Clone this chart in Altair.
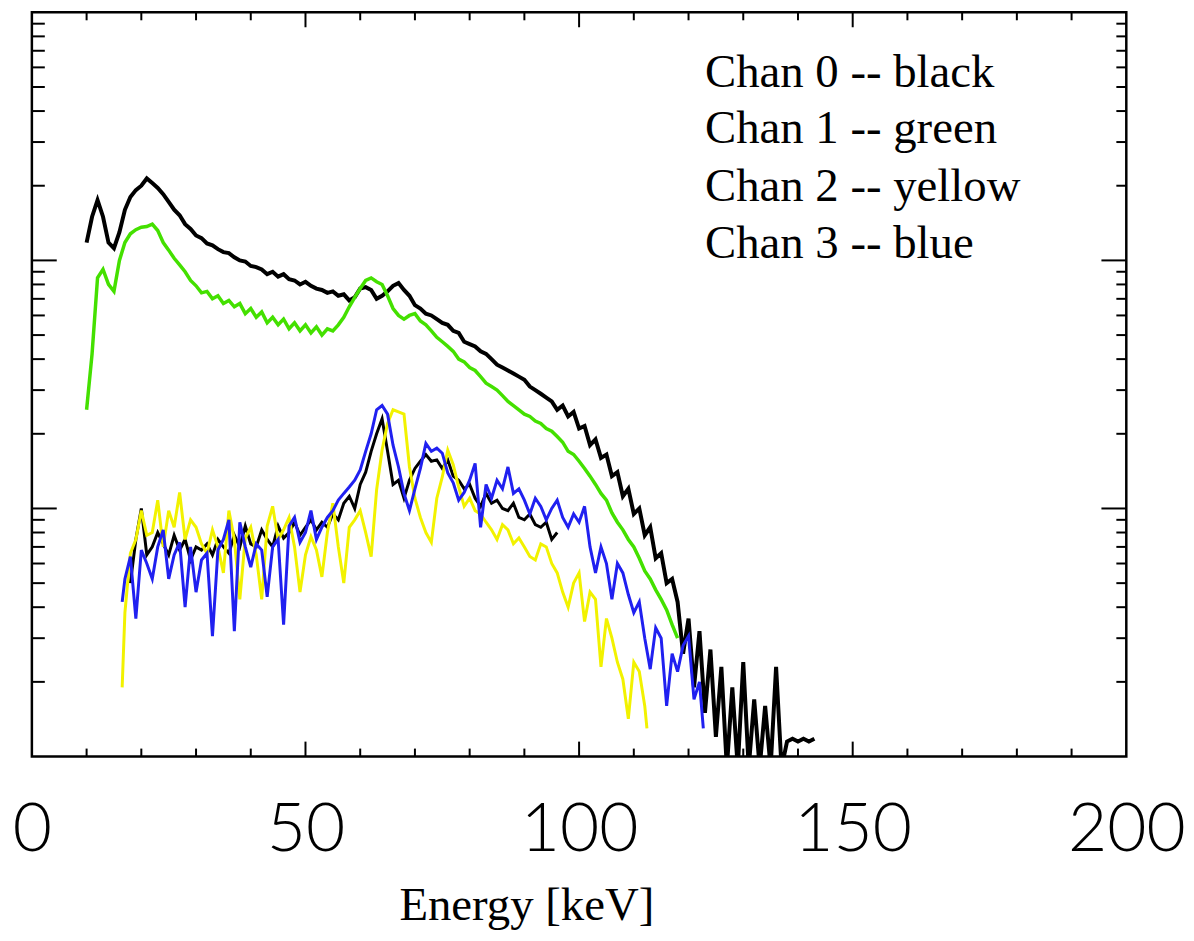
import altair as alt
import pandas as pd

W, H = 1100, 748

# ---------------- data (energy in keV, counts) ----------------
ch0_energy = list(range(10, 138)) + [138, 139, 140, 141, 142, 143]
ch0_counts = [
    118, 150, 175, 150, 118, 112, 130, 160, 180, 192,          # 10-19
    200, 214, 205, 196, 185, 172, 160, 152, 140, 134,          # 20-29
    126, 123, 117, 115, 111, 108, 107, 103, 100, 99,           # 30-39
    95, 94, 92, 88, 90, 86, 88, 84, 83, 80,                    # 40-49
    82, 79, 77, 76, 74, 75, 72, 73, 69, 71,                    # 50-59
    77, 78, 76, 70, 72, 75, 79, 81, 76, 72,                    # 60-69
    66, 64, 61, 60, 58, 56, 55, 52, 51, 47,                    # 70-79
    46, 45, 43, 42, 40, 38, 37, 36, 35, 34,                    # 80-89
    33, 31, 30, 29, 28, 27, 25, 26, 23.5, 24.5,                # 90-99
    21, 21.5, 18, 19, 16, 16.5, 13.5, 14, 11.2, 12,            # 100-109
    9.5, 10, 7.8, 8.4, 6.3, 6.6, 5.0, 5.2,                     # 110-117
    4.2, 2.6, 3.6, 1.9, 3.2, 1.5, 2.7, 1.2, 2.3, 0.9,          # 118-127
    1.9, 0.9, 2.4, 0.9, 1.7, 0.9, 1.6, 0.9, 2.3, 0.9,          # 128-137
    1.15, 1.18, 1.15, 1.18, 1.15, 1.18,                        # 138-143
]

ch0_low_energy = list(range(18, 97))
ch0_low_counts = [
    5.0, 7.5, 10.0, 6.5, 7.0, 8.0, 7.2, 6.5, 7.8, 6.8,
    7.5, 6.2, 7.0, 6.8, 7.2, 6.5, 7.5, 7.0, 6.6, 7.8,
    7.0, 8.5, 7.2, 7.0, 8.2, 7.5, 7.0, 8.5, 7.6, 8.0,
    8.8, 7.8, 8.4, 9.0, 8.2, 8.8, 8.4, 9.5, 9.0, 10.5,
    11.2, 10.0, 12.5, 14, 17, 20, 23, 17, 12.5, 13,
    11, 13, 14.5, 15.5, 16.5, 15.5, 15.7, 14.5, 15.7, 13.5,
    13, 12, 12.5, 11, 10.2, 11.5, 10.5, 10.8, 10, 9.8,
    10.5, 9.2, 9, 9.5, 8.6, 8.4, 8.8, 7.5, 8.0,
]

ch1_energy = list(range(10, 119))
ch1_counts = [
    25, 42, 85, 92, 80, 75, 100, 118, 128, 133,
    136, 137, 140, 132, 118, 110, 102, 96, 90, 83,
    79, 74, 75, 70, 72, 67, 69, 65, 67, 61,
    64, 59, 62, 56, 59, 55, 58, 53, 56, 52,
    55, 51, 54, 50, 53, 52, 55, 59, 65, 71,
    77, 83, 85, 82, 80, 72, 64, 60, 58, 60,
    61, 57, 55, 52, 49, 47, 45, 43, 40, 39,
    37, 36, 34, 32, 31, 30, 28.5, 27, 26, 25,
    24, 23.5, 22.5, 22, 21, 20.5, 19.5, 18.5, 17, 16.5,
    15.5, 14.5, 13.5, 12.5, 11.5, 10.8, 9.6, 8.8, 8.2, 7.5,
    7.0, 6.3, 5.6, 5.2, 4.7, 4.3, 3.9, 3.4, 3.0,
]

ch2_energy = [16.5] + list(range(17, 113)) + [112.4]
ch2_counts = [
    1.9,
    3.8, 6.6, 7.5, 9.8, 7.8, 8.0, 10.8, 7.0, 9.8, 8.4,
    11.6, 7.5, 9.0, 8.4, 7.2, 6.6, 8.2, 7.0, 5.5, 9.8,
    7.5, 4.3, 7.6, 8.4, 6.5, 4.3, 8.5, 10.2, 7.5, 8.2,
    9.2, 7.0, 4.6, 6.5, 7.7, 6.8, 5.3, 8.0, 10.5, 7.0,
    5.0, 8.4, 9.0, 9.8, 8.0, 6.4, 11.9, 17.2, 22, 25,
    24.5, 24, 14.7, 11, 9.2, 8.0, 7.3, 11, 13.4, 17.2,
    15, 12.2, 10.2, 11, 9.8, 9.5, 8.8, 8.2, 7.5, 8.6,
    8.2, 7.2, 7.6, 7.0, 6.4, 6.2, 7.2, 7.0, 6.0, 5.5,
    4.6, 4.0, 5.0, 5.5, 3.5, 4.6, 4.3, 2.3, 3.6, 3.0,
    2.4, 2.05, 1.42, 2.4, 2.2, 1.6,
    1.3,
]

ch3_energy = [16.5] + list(range(17, 123)) + [122.7]
ch3_counts = [
    4.2,
    5.2, 6.4, 3.6, 6.8, 6.0, 5.2, 7.0, 8.2, 5.2, 6.5,
    7.3, 4.0, 7.0, 4.6, 6.2, 6.6, 3.06, 6.8, 7.5, 9.0,
    3.2, 8.8, 7.0, 5.8, 7.2, 6.8, 4.4, 7.0, 7.5, 3.4,
    8.5, 9.2, 7.3, 8.0, 9.8, 7.5, 8.4, 9.2, 9.8, 10.8,
    11.5, 12.2, 13.0, 14.3, 17, 20, 25, 26, 24, 18,
    14.7, 11.5, 9.8, 12, 14.5, 18.3, 17, 17.5, 16.7, 13.9,
    12.7, 10.8, 11.6, 13, 15.2, 8.4, 12.5, 11, 13, 12,
    14.7, 11.5, 12, 10.8, 9.5, 11, 10.2, 9.0, 10, 10.8,
    9.2, 8.4, 9.5, 8.8, 10.2, 7.0, 5.5, 7.0, 6.0, 4.3,
    6.0, 5.5, 4.5, 3.8, 4.2, 3.0, 2.25, 3.3, 3.0, 1.6,
    2.6, 2.2, 2.8, 3.06, 1.7, 2.0,
    1.3,
]

legend_lines = ["Chan 0 -- black", "Chan 1 -- green", "Chan 2 -- yellow", "Chan 3 -- blue"]
legend_energy = [123, 123, 123, 123]
legend_counts = [500, 296, 173, 102]

x_labels = [0, 50, 100, 150, 200]
x_minor = [10, 20, 30, 40, 60, 70, 80, 90, 110, 120, 130, 140, 160, 170, 180, 190]
x_major = [50, 100, 150]
y_minor = [m * d for d in (1, 10, 100) for m in range(2, 10)]
y_major = [10, 100]

# ---------------- scales / axes ----------------
x_scale = alt.Scale(domain=[0, 200], nice=False, zero=False)
y_scale = alt.Scale(type="log", domain=[1, 1000], nice=False)

x_axis = alt.Axis(
    values=x_labels, ticks=False, domain=False, grid=False,
    labelFont="Lato", labelFontWeight=300, labelFontSize=68, labelColor="#000",
    labelPadding=40, labelBaseline="top", labelFlush=False, labelOverlap=False,
    title="Energy [keV]", titleFont="Liberation Serif", titleFontSize=47,
    titleFontWeight="normal", titleColor="#000", titleX=497, titleY=164,
    titleBaseline="alphabetic", titleAlign="center",
)


def X(field):
    return alt.X(field, type="quantitative", scale=x_scale, axis=x_axis)


def Y(field):
    return alt.Y(field, type="quantitative", scale=y_scale, axis=None)


def line(e, v, color, width):
    df = pd.DataFrame({"energy": e, "counts": v})
    return alt.Chart(df).mark_line(color=color, strokeWidth=width, clip=True).encode(
        x=X("energy"), y=Y("counts")
    )


layers = [
    line(ch0_low_energy, ch0_low_counts, "#000000", 3),
    line(ch0_energy, ch0_counts, "#000000", 4),
    line(ch1_energy, ch1_counts, "#44e000", 3.5),
    line(ch2_energy, ch2_counts, "#f2f200", 3),
    line(ch3_energy, ch3_counts, "#2020f0", 3),
]


def xticks(vals, length, top):
    df = pd.DataFrame({"t": vals})
    y0, y1 = (0, length) if top else (H, H - length)
    return alt.Chart(df).mark_rule(color="black", strokeWidth=2).encode(
        x=X("t"), y=alt.value(y0), y2=alt.value(y1)
    )


def yticks(vals, length, right):
    df = pd.DataFrame({"t": vals})
    x0, x1 = (W - length, W) if right else (0, length)
    return alt.Chart(df).mark_rule(color="black", strokeWidth=2).encode(
        y=Y("t"), x=alt.value(x0), x2=alt.value(x1)
    )


ticks = [
    xticks(x_minor, 8, False), xticks(x_major, 15, False),
    xticks(x_minor, 8, True), xticks(x_major, 15, True),
    yticks(y_minor, 13, False), yticks(y_major, 25, False),
    yticks(y_minor, 10, True), yticks(y_major, 25, True),
]

legend_df = pd.DataFrame({"energy": legend_energy, "counts": legend_counts, "label": legend_lines})
legend = alt.Chart(legend_df).mark_text(
    align="left", baseline="alphabetic", font="Liberation Serif", fontSize=47, color="#000"
).encode(x=X("energy"), y=Y("counts"), text="label:N")

chart = alt.layer(*layers, *ticks, legend).properties(
    width=W, height=H,
    padding={"left": 24, "top": 2, "right": 60, "bottom": 175},
    autosize=alt.AutoSizeParams(type="none"),
    background="white",
).configure_view(stroke="black", strokeWidth=2.5)

chart.save("out.html", embed_options={"renderer": "svg", "actions": False})
